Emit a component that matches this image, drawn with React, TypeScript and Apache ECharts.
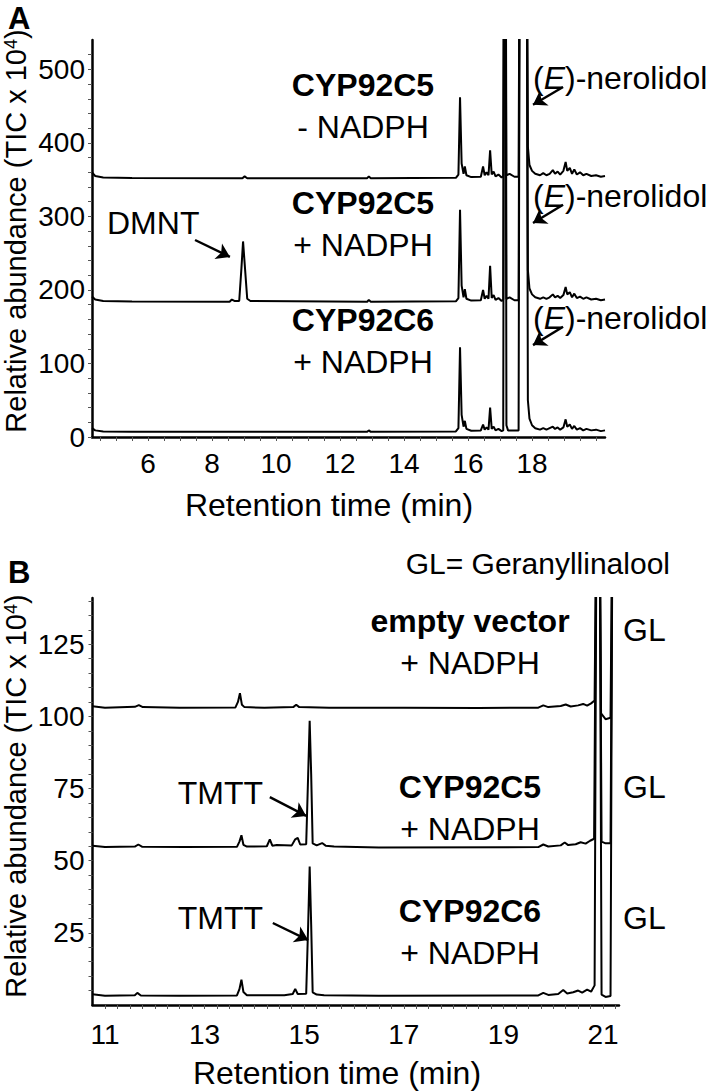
import React, { useEffect, useRef } from "react";
import * as echarts from "echarts";

const FONT = "'Liberation Sans', Arial, sans-serif";
const TICK_FS = 28;
const ANN_FS = 32;

// ---------- Panel A: axes ----------
const aXLabels = [6, 8, 10, 12, 14, 16, 18];
const aXTicks = [4.5, 5, 5.5, 6, 6.5, 7, 7.5, 8, 8.5, 9, 9.5, 10, 10.5, 11, 11.5, 12, 12.5, 13, 13.5, 14, 14.5, 15, 15.5, 16, 16.5, 17, 17.5, 18, 18.5, 19, 19.5, 20];
const aYLabels = [0, 100, 200, 300, 400, 500];
const aYTicks = [0, 20, 40, 60, 80, 100, 120, 140, 160, 180, 200, 220, 240, 260, 280, 300, 320, 340, 360, 380, 400, 420, 440, 460, 480, 500, 520];

// ---------- Panel A: chromatograms (time min, TIC x 10^4) ----------
const c5MinusNadph = [
  [4.25, 360], [4.35, 355], [4.6, 353], [5.5, 352.3], [8.95, 352], [9.02, 354.5], [9.1, 352],
  [12.85, 352], [12.9, 354.5], [12.96, 352], [15.62, 352.5], [15.7, 357], [15.75, 462], [15.8, 372],
  [15.86, 358], [15.9, 368], [15.95, 356], [16.1, 353.5], [16.4, 354], [16.47, 368], [16.52, 356],
  [16.58, 360], [16.64, 356], [16.69, 390], [16.74, 357], [16.8, 361], [16.86, 354.5], [16.95, 357],
  [17.05, 353], [17.1, 355], [17.13, 800], [17.17, 800], [17.2, 356], [17.3, 358], [17.45, 354],
  [17.58, 354], [17.62, 800], [17.83, 800], [17.87, 395], [17.92, 370], [18.0, 362], [18.1, 358],
  [18.25, 356], [18.35, 359], [18.45, 356], [18.55, 358], [18.65, 363], [18.72, 358], [18.8, 361],
  [18.88, 357], [18.98, 362], [19.05, 374], [19.1, 362], [19.18, 366], [19.25, 358], [19.32, 364],
  [19.4, 357], [19.5, 360], [19.6, 356], [19.7, 358], [19.85, 355], [20.0, 356], [20.15, 354], [20.28, 355],
];
const c5PlusNadphA = [
  [4.25, 191], [4.35, 187], [4.6, 185], [5.5, 184.3], [8.55, 184], [8.62, 187], [8.7, 185], [8.85, 185],
  [8.92, 230], [8.97, 266], [9.03, 230], [9.1, 188], [9.2, 185], [12.85, 184], [12.9, 186.5], [12.96, 184],
  [15.62, 184.5], [15.7, 189], [15.75, 309], [15.8, 206], [15.86, 190], [15.9, 201], [15.95, 188],
  [16.1, 185.5], [16.4, 186], [16.47, 200], [16.52, 188], [16.58, 192], [16.64, 188], [16.69, 233],
  [16.74, 189], [16.8, 193], [16.86, 186.5], [16.95, 189], [17.05, 185], [17.1, 187], [17.13, 800],
  [17.17, 800], [17.2, 188], [17.3, 190], [17.45, 186], [17.58, 186], [17.62, 800], [17.83, 800],
  [17.87, 227], [17.92, 202], [18.0, 194], [18.1, 190], [18.25, 188], [18.35, 190], [18.45, 188],
  [18.55, 190], [18.65, 194], [18.72, 190], [18.8, 192], [18.88, 189], [18.98, 193], [19.05, 204],
  [19.1, 194], [19.18, 197], [19.25, 190], [19.32, 195], [19.4, 189], [19.5, 191], [19.6, 188],
  [19.7, 190], [19.85, 187], [20.0, 188], [20.15, 186], [20.28, 187],
];
const c6PlusNadphA = [
  [4.25, 12], [4.35, 9], [4.6, 7.5], [5.5, 7], [12.85, 7], [12.9, 9], [12.96, 7], [15.62, 7.5],
  [15.7, 12], [15.75, 122], [15.8, 30], [15.86, 14], [15.9, 22], [15.95, 11], [16.1, 8.5], [16.4, 9],
  [16.47, 17], [16.52, 10], [16.58, 13], [16.64, 10], [16.69, 40], [16.74, 11], [16.8, 14], [16.86, 9],
  [16.95, 11], [17.05, 8], [17.1, 9], [17.13, 800], [17.17, 800], [17.2, 16], [17.25, 9], [17.45, 9],
  [17.58, 9], [17.62, 800], [17.83, 800], [17.87, 50], [17.92, 25], [18.0, 16], [18.1, 12], [18.25, 10],
  [18.35, 12], [18.45, 10], [18.55, 12], [18.65, 14], [18.72, 11], [18.8, 13], [18.88, 10], [18.98, 13],
  [19.05, 24], [19.1, 14], [19.18, 17], [19.25, 11], [19.32, 15], [19.4, 10], [19.5, 12], [19.6, 9],
  [19.7, 11], [19.85, 9], [20.0, 10], [20.15, 8], [20.28, 9],
];

// ---------- Panel B: axes ----------
const bXLabels = [11, 13, 15, 17, 19, 21];
const bXTicks = [11, 11.25, 11.5, 11.75, 12, 12.25, 12.5, 12.75, 13, 13.25, 13.5, 13.75, 14, 14.25, 14.5, 14.75, 15, 15.25, 15.5, 15.75, 16, 16.25, 16.5, 16.75, 17, 17.25, 17.5, 17.75, 18, 18.25, 18.5, 18.75, 19, 19.25, 19.5, 19.75, 20, 20.25, 20.5, 20.75, 21, 21.25];
const bYLabels = [25, 50, 75, 100, 125];
const bYTicks = [5, 10, 15, 20, 25, 30, 35, 40, 45, 50, 55, 60, 65, 70, 75, 80, 85, 90, 95, 100, 105, 110, 115, 120, 125, 130, 135, 140];

// ---------- Panel B: chromatograms ----------
const emptyVector = [
  [10.75, 103.5], [11.0, 103], [11.6, 103.3], [11.68, 103.9], [11.76, 103.2], [12.5, 103], [13.62, 103.1],
  [13.67, 105], [13.71, 108], [13.75, 104], [13.8, 103.2], [14.2, 103], [14.78, 103.2], [14.84, 104],
  [14.9, 103.2], [15.5, 103], [17.0, 103], [18.5, 102.9], [19.7, 103], [19.8, 103.8], [19.9, 103.2],
  [20.15, 103.6], [20.25, 104.1], [20.35, 103.4], [20.5, 103.8], [20.6, 104.3], [20.68, 103.7],
  [20.76, 104.5], [20.83, 105.5], [20.87, 180], [20.93, 180], [20.96, 101], [21.05, 99], [21.15, 99.5], [21.19, 180],
];
const c5PlusNadphB = [
  [10.75, 55.2], [11.0, 54.7], [11.6, 54.9], [11.67, 55.6], [11.75, 54.8], [12.6, 54.7], [13.65, 54.8],
  [13.7, 56.6], [13.74, 58.8], [13.78, 55.5], [13.85, 54.9], [14.25, 55], [14.31, 57.4], [14.36, 55.2],
  [14.45, 55.4], [14.75, 55.3], [14.82, 57.4], [14.87, 57.9], [14.92, 55.6], [15.04, 55.7], [15.08, 80],
  [15.11, 98.5], [15.14, 80], [15.17, 56], [15.25, 55.3], [15.36, 56.1], [15.43, 55.2], [15.6, 54.9],
  [16.5, 54.6], [19.7, 54.7], [19.8, 55.6], [19.9, 54.9], [20.15, 55.3], [20.23, 56.3], [20.3, 55.4],
  [20.45, 55.7], [20.55, 56.4], [20.65, 55.9], [20.74, 56.9], [20.82, 57.6], [20.87, 180], [20.93, 180],
  [20.97, 56.6], [21.05, 56], [21.15, 56], [21.19, 180],
];
const c6PlusNadphB = [
  [10.75, 3.7], [11.0, 3.2], [11.6, 3.4], [11.65, 4.2], [11.72, 3.3], [12.5, 3.2], [13.65, 3.3],
  [13.7, 5.5], [13.74, 8.8], [13.78, 4.5], [13.85, 3.4], [14.6, 3.4], [14.77, 3.8], [14.82, 5.6],
  [14.87, 3.8], [15.04, 3.9], [15.08, 28], [15.11, 48], [15.14, 28], [15.17, 4.4], [15.25, 3.6],
  [15.4, 3.4], [16.5, 3.2], [19.7, 3.3], [19.8, 4.2], [19.9, 3.5], [20.1, 3.8], [20.2, 5.2],
  [20.28, 4.0], [20.4, 4.4], [20.5, 5.0], [20.58, 4.3], [20.68, 5.3], [20.76, 4.6], [20.83, 6.8],
  [20.87, 180], [20.93, 180], [20.97, 3.6], [21.05, 2.8], [21.15, 3.1], [21.19, 180],
];

// ---------- annotation arrows (data coordinates: [start], [tip]) ----------
const arrowsA = [
  [[18.97, 476], [18.03, 452]],
  [[18.97, 316], [18.03, 291]],
  [[18.97, 150], [18.03, 125]],
  [[7.47, 268], [8.56, 245]],
];
const arrowsB = [
  [[14.31, 72], [15.04, 65.5]],
  [[14.37, 28.4], [15.08, 22.5]],
];

const traceStyle = { color: "#000", width: 2 };

export default function App() {
  const ref = useRef<HTMLDivElement>(null);
  useEffect(() => {
    if (!ref.current) return;
    const chart = echarts.init(ref.current, null, { renderer: "svg" });
    const axisLine = { show: true, onZero: false, lineStyle: { color: "#000", width: 2.5 } };
    const lbl = { fontSize: TICK_FS, color: "#000", fontFamily: FONT };
    const tick = (vals: number[]) => ({
      show: true,
      customValues: vals,
      length: 4,
      lineStyle: { color: "#555", width: 1 },
    });
    const mkArrows = (list: number[][][]) => ({
      silent: true,
      symbol: ["none", "arrow"],
      symbolSize: 13,
      label: { show: false },
      lineStyle: { color: "#000", width: 2.4, type: "solid" },
      data: list.map((a) => [{ coord: a[0] }, { coord: a[1] }]),
    });
    const txt = (x: number, y: number, text: string, o: any = {}) => ({
      type: "text",
      x,
      y,
      rotation: o.rot || 0,
      style: {
        text,
        fontSize: o.fs || ANN_FS,
        fontFamily: FONT,
        fill: "#000",
        align: o.align || "center",
        verticalAlign: "middle",
        fontWeight: o.bold ? "bold" : "normal",
        rich: {
          i: { fontStyle: "italic", fontSize: o.fs || ANN_FS, fontFamily: FONT, fill: "#000" },
          a: { fontSize: o.fs || ANN_FS, fontFamily: FONT, fill: "#000" },
          s: { fontSize: 18, fontFamily: FONT, fill: "#000", verticalAlign: "top" },
        },
      },
    });
    const yTitle = "{a|Relative abundance (TIC x 10}{s|4}{a|)}";

    const option: any = {
      animation: false,
      grid: [
        { left: 92, top: 40, width: 513, height: 397 },
        { left: 92.5, top: 598, width: 526.5, height: 407 },
      ],
      xAxis: [
        {
          type: "value", gridIndex: 0, min: 4.25, max: 20.28,
          axisLine, axisTick: tick(aXTicks),
          axisLabel: { ...lbl, customValues: aXLabels, margin: 12 },
          splitLine: { show: false },
        },
        {
          type: "value", gridIndex: 1, min: 10.75, max: 21.32,
          axisLine, axisTick: tick(bXTicks),
          axisLabel: { ...lbl, customValues: bXLabels, margin: 15 },
          splitLine: { show: false },
        },
      ],
      yAxis: [
        {
          type: "value", gridIndex: 0, min: 0, max: 540,
          axisLine, axisTick: tick(aYTicks),
          axisLabel: { ...lbl, customValues: aYLabels, margin: 7 },
          splitLine: { show: false },
        },
        {
          type: "value", gridIndex: 1, min: 0, max: 141,
          axisLine, axisTick: tick(bYTicks),
          axisLabel: { ...lbl, customValues: bYLabels, margin: 8 },
          splitLine: { show: false },
        },
      ],
      series: [
        { type: "line", xAxisIndex: 0, yAxisIndex: 0, data: c5MinusNadph, showSymbol: false, lineStyle: traceStyle, clip: true, markLine: mkArrows(arrowsA) },
        { type: "line", xAxisIndex: 0, yAxisIndex: 0, data: c5PlusNadphA, showSymbol: false, lineStyle: traceStyle, clip: true },
        { type: "line", xAxisIndex: 0, yAxisIndex: 0, data: c6PlusNadphA, showSymbol: false, lineStyle: traceStyle, clip: true },
        { type: "line", xAxisIndex: 1, yAxisIndex: 1, data: emptyVector, showSymbol: false, lineStyle: traceStyle, clip: true, markLine: mkArrows(arrowsB) },
        { type: "line", xAxisIndex: 1, yAxisIndex: 1, data: c5PlusNadphB, showSymbol: false, lineStyle: traceStyle, clip: true },
        { type: "line", xAxisIndex: 1, yAxisIndex: 1, data: c6PlusNadphB, showSymbol: false, lineStyle: traceStyle, clip: true },
      ],
      graphic: [
        txt(8, 18, "A", { bold: true, fs: 31, align: "left" }),
        txt(8, 572, "B", { bold: true, fs: 31, align: "left" }),
        // axis titles
        txt(329, 505, "Retention time (min)"),
        txt(337, 1073, "Retention time (min)"),
        txt(16, 231, yTitle, { fs: 29, rot: Math.PI / 2 }),
        txt(16, 796, yTitle, { fs: 29, rot: Math.PI / 2 }),
        // panel A annotations
        txt(363, 85, "CYP92C5", { bold: true }),
        txt(363, 127, "- NADPH"),
        txt(363, 203, "CYP92C5", { bold: true }),
        txt(363, 245, "+ NADPH"),
        txt(363, 320, "CYP92C6", { bold: true }),
        txt(363, 362, "+ NADPH"),
        txt(533, 78, "({i|E})-nerolidol", { align: "left" }),
        txt(533, 196, "({i|E})-nerolidol", { align: "left" }),
        txt(533, 318, "({i|E})-nerolidol", { align: "left" }),
        txt(107, 223, "DMNT", { align: "left" }),
        // panel B annotations
        txt(670, 563, "GL= Geranyllinalool", { align: "right", fs: 30 }),
        txt(470, 621, "empty vector", { bold: true }),
        txt(470, 663, "+ NADPH"),
        txt(470, 787, "CYP92C5", { bold: true }),
        txt(470, 829, "+ NADPH"),
        txt(470, 911, "CYP92C6", { bold: true }),
        txt(470, 953, "+ NADPH"),
        txt(263, 793, "TMTT", { align: "right" }),
        txt(263, 918, "TMTT", { align: "right" }),
        txt(623, 630, "GL", { align: "left" }),
        txt(623, 787, "GL", { align: "left" }),
        txt(623, 918, "GL", { align: "left" }),
      ],
    };
    chart.setOption(option);
    return () => chart.dispose();
  }, []);
  return (
    <div
      ref={ref}
      style={{ position: "fixed", left: 0, top: 0, width: 716, height: 1091, background: "#fff" }}
    />
  );
}
